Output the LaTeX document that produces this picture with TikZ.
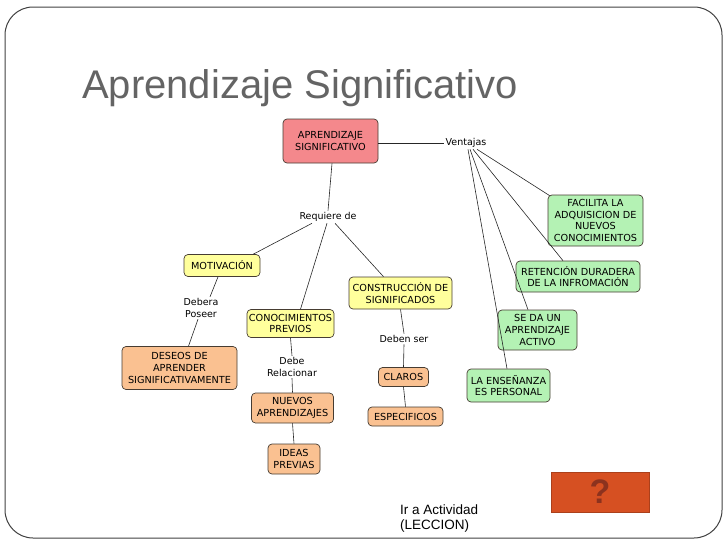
\documentclass[tikz,border=0pt]{standalone}
\usepackage{fontspec}
\setmainfont{Liberation Sans}
\newfontfamily\mapfont{DejaVu Sans}
\definecolor{rootpink}{RGB}{244,136,140}
\definecolor{mapyellow}{RGB}{255,255,156}
\definecolor{mappeach}{RGB}{250,193,145}
\definecolor{mapgreen}{RGB}{180,242,180}
\definecolor{boxline}{RGB}{70,60,50}
\definecolor{titlegray}{RGB}{100,100,100}
\definecolor{quizred}{RGB}{214,80,34}
\definecolor{quizmark}{RGB}{140,50,30}
\begin{document}
\begin{tikzpicture}[x=1pt, y=-1pt,
  concept/.style={draw=boxline, line width=0.7pt, rounded corners=4pt, align=center, inner sep=1pt,
    font=\mapfont\fontsize{9.7}{11.6}\selectfont},
  rootbox/.style={concept, fill=rootpink},
  yelbox/.style={concept, fill=mapyellow},
  peachbox/.style={concept, fill=mappeach},
  greenbox/.style={concept, fill=mapgreen},
  link/.style={align=center, inner sep=1.5pt, font=\mapfont\fontsize{9.5}{11.6}\selectfont},
  edge/.style={black!85, line width=0.6pt}]
\useasboundingbox (0,0) rectangle (728,546);

% Slide frame and title
\draw[black!75, line width=1pt, rounded corners=28pt] (5,7) rectangle (722,538);
\node[anchor=base west, inner sep=0, text=titlegray, font=\fontsize{40}{40}\selectfont] (title) at (82,98) {Aprendizaje Significativo};

% Root and link words
\node[rootbox, minimum width=95pt, minimum height=44pt] (root) at (330.5,141) {APRENDIZAJE\\SIGNIFICATIVO};
\node[link] (ven) at (466,143) {Ventajas};
\node[link] (req) at (328,217) {Requiere de};

% Left branch
\node[yelbox, minimum width=76pt, minimum height=22pt] (mot) at (222,265.5) {MOTIVACIÓN};
\node[link] (deb) at (201,308) {Debera\\Poseer};
\node[peachbox, minimum width=115pt, minimum height=43pt] (des) at (179.5,368) {DESEOS DE\\APRENDER\\SIGNIFICATIVAMENTE};

% Middle branch
\node[yelbox, minimum width=87pt, minimum height=28pt] (con) at (290.5,323.5) {CONOCIMIENTOS\\PREVIOS};
\node[link] (rel) at (292,367) {Debe\\Relacionar};
\node[peachbox, minimum width=82pt, minimum height=30pt] (nue) at (292.5,408) {NUEVOS\\APRENDIZAJES};
\node[peachbox, minimum width=52pt, minimum height=30pt] (ide) at (294,459) {IDEAS\\PREVIAS};

% Right branch
\node[yelbox, minimum width=103pt, minimum height=32pt] (cns) at (400.5,293) {CONSTRUCCIÓN DE\\SIGNIFICADOS};
\node[link] (dbs) at (404,339) {Deben ser};
\node[peachbox, minimum width=50pt, minimum height=19pt] (cla) at (403.5,377) {CLAROS};
\node[peachbox, minimum width=75pt, minimum height=19pt] (esp) at (405.5,416.5) {ESPECIFICOS};

% Advantages
\node[greenbox, minimum width=95pt, minimum height=51pt] (fac) at (595.5,220.5) {FACILITA LA\\ADQUISICION DE\\NUEVOS\\CONOCIMIENTOS};
\node[greenbox, minimum width=124pt, minimum height=31pt] (ret) at (578,276.5) {RETENCIÓN DURADERA\\DE LA INFROMACIÓN};
\node[greenbox, minimum width=79pt, minimum height=40pt] (sed) at (537.5,330) {SE DA UN\\APRENDIZAJE\\ACTIVO};
\node[greenbox, minimum width=83pt, minimum height=33pt] (ens) at (508.5,385.5) {LA ENSEÑANZA\\ES PERSONAL};

% Connectors
\draw[edge] (root.east |- ven.west) -- (ven.west);
\draw[edge] ([xshift=1.5pt]root.south) -- (req.north);
\draw[edge] ([xshift=-16pt]req.south) -- ([xshift=-7pt]mot.north east);
\draw[edge] ([xshift=-1pt]req.south) -- ([xshift=10pt]con.north);
\draw[edge] ([xshift=7pt]req.south) -- ([xshift=-17pt]cns.north);
\draw[edge] ([xshift=-4pt]mot.south) -- ([xshift=9pt]deb.north);
\draw[edge] ([xshift=-3pt]deb.south) -- ([xshift=9pt]des.north);
\draw[edge] (con.south) -- (rel.north);
\draw[edge] (rel.south) -- (nue.north);
\draw[edge] (nue.south) -- (ide.north);
\draw[edge] (cns.south) -- (dbs.north);
\draw[edge] (dbs.south) -- (cla.north);
\draw[edge] (cla.south) -- (esp.north);
\draw[edge] ([xshift=11pt]ven.south) -- ([xshift=2pt,yshift=-1pt]fac.north west);
\draw[edge] ([xshift=7pt]ven.south) -- ([xshift=-15pt]ret.north);
\draw[edge] ([xshift=4pt]ven.south) -- ([xshift=-9.5pt]sed.north);
\draw[edge] ([xshift=2pt]ven.south) -- ([xshift=-1.5pt]ens.north);

% Activity link
\node[anchor=north west, align=left, inner sep=0, font=\fontsize{13.5}{14.5}\selectfont] (act) at (400,505) {Ir a Actividad\\(LECCION)};
\node[fill=quizred, draw=quizred!80!black, minimum width=98pt, minimum height=40pt, inner sep=0,
  text=quizmark, font=\fontsize{34}{34}\selectfont\bfseries] (quiz) at (600,492) {?};
\end{tikzpicture}
\end{document}
